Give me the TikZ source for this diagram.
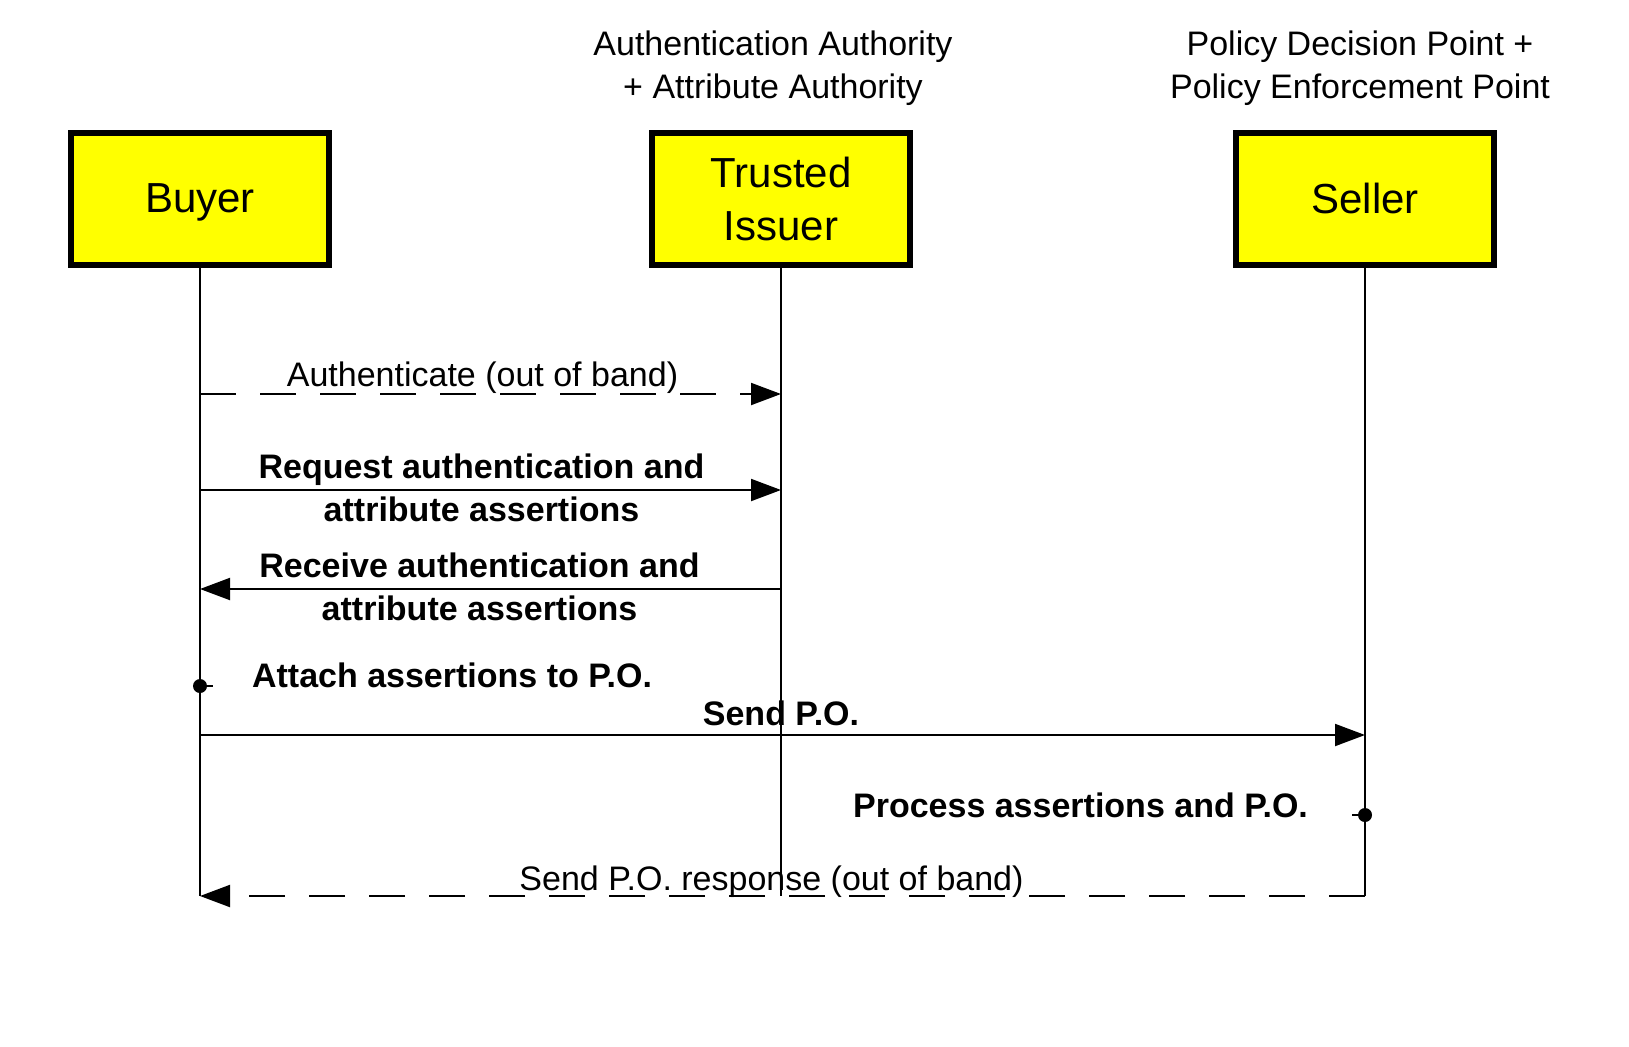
\documentclass[tikz,border=0pt]{standalone}
\usepackage{fontspec}
\setmainfont{Liberation Sans}
\usepackage{xcolor}
\usetikzlibrary{arrows.meta,
	calc,
	positioning}
\definecolor{boxyellow}{RGB}{255,255,0}
\tikzset{
	lifebox/.style={draw, line width=3pt, fill=boxyellow, minimum width=129pt,
		minimum height=66pt, inner sep=0pt, align=center,
		font=\fontsize{21}{26.5}\selectfont},
	roletext/.style={align=center, font=\fontsize{17}{21.5}\selectfont},
	plaintext/.style={align=center, font=\fontsize{17}{21.5}\selectfont},
	msgtext/.style={align=center, font=\bfseries\fontsize{17}{21.5}\selectfont},
	lifeline/.style={line width=1pt},
	syncmsg/.style={line width=1pt, -{Triangle[length=15pt,width=11pt]}},
	asyncmsg/.style={syncmsg, dash pattern=on 18pt off 12pt},
}

\begin{document}
\begin{tikzpicture}[x=0.5pt, y=-0.5pt]
	\useasboundingbox (0,0) rectangle (1629,1046);
	% participants
	\node[lifebox, text depth=0pt] (buyer) at (200,198.5) {Buyer};
	\node[lifebox] (issuer) at (781,198.5) {Trusted\\Issuer};
	\node[lifebox] (seller) at (1365,198.5) {Seller};
	\node[roletext] (issuerRole) at (773,68) {Authentication Authority\\+ Attribute Authority};
	\node[roletext] (sellerRole) at (1360,68) {Policy Decision Point +\\Policy Enforcement Point};
	% message rows on each lifeline
	\foreach \n/\y in {1/394,2/490,3/589,4/686,5/735,6/815,7/896} {
		\coordinate (b\n) at (buyer.south |- 0,\y);
		\coordinate (t\n) at (issuer.south |- 0,\y);
		\coordinate (s\n) at (seller.south |- 0,\y);
	}
	\draw[lifeline] (buyer.south) -- (b7);
	\draw[lifeline] (issuer.south) -- (t7);
	\draw[lifeline] (seller.south) -- (s7);
	% messages
	\draw[asyncmsg] (b1) -- (t1);
	\node[plaintext, anchor=base] (authLbl) at ($(b1)!0.5!(t1)+(-8,-8)$) {Authenticate (out of band)};
	\draw[syncmsg] (b2) -- (t2);
	\node[msgtext] (requestLbl) at ($(b2)!0.5!(t2)+(-9,-2)$) {Request authentication and\\attribute assertions};
	\draw[syncmsg] (t3) -- (b3);
	\node[msgtext] (receiveLbl) at ($(b3)!0.5!(t3)+(-11,-2)$) {Receive authentication and\\attribute assertions};
	\fill (b4) circle (3.5pt);
	\draw[lifeline] (b4) -- ++(13,0);
	\node[msgtext, anchor=base west] (attachLbl) at ($(b4)+(45,1)$) {Attach assertions to P.O.};
	\draw[syncmsg] (b5) -- (s5);
	\node[msgtext, anchor=base] (sendLbl) at ($(t5)+(0,-10)$) {Send P.O.};
	\fill (s6) circle (3.5pt);
	\draw[lifeline] (s6) -- ++(-13,0);
	\node[msgtext, anchor=base east] (processLbl) at ($(s6)+(-50,2)$) {Process assertions and P.O.};
	\draw[asyncmsg] (s7) -- (b7);
	\node[plaintext, anchor=base] (responseLbl) at ($(b7)!0.5!(s7)+(-11,-6)$) {Send P.O. response (out of band)};
\end{tikzpicture}
\end{document}
